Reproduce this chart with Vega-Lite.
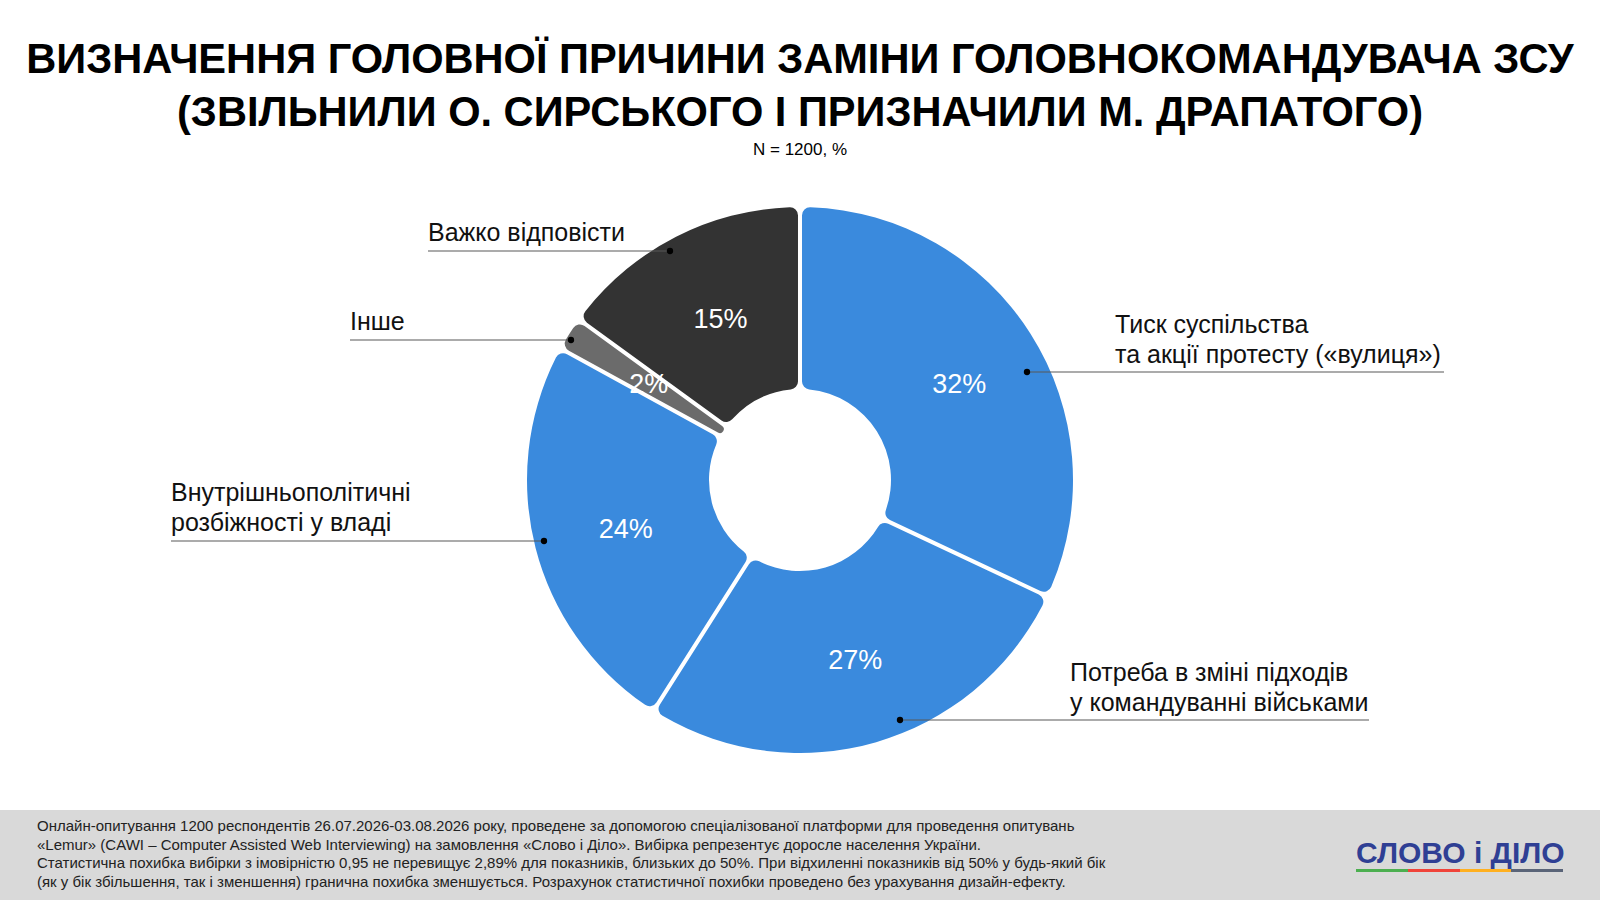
{
  "$schema": "https://vega.github.io/schema/vega-lite/v6.json",
  "description": "Визначення головної причини заміни головнокомандувача ЗСУ",
  "width": 1600,
  "height": 620,
  "autosize": {"type": "none"},
  "padding": {"top": 170, "bottom": 110, "left": 0, "right": 0},
  "background": "white",
  "title": {
    "text": ["ВИЗНАЧЕННЯ ГОЛОВНОЇ ПРИЧИНИ ЗАМІНИ ГОЛОВНОКОМАНДУВАЧА ЗСУ", "(ЗВІЛЬНИЛИ О. СИРСЬКОГО І ПРИЗНАЧИЛИ М. ДРАПАТОГО)"],
    "subtitle": "N = 1200, %",
    "anchor": "middle",
    "frame": "group",
    "font": "Liberation Sans",
    "fontSize": 41.6,
    "fontWeight": "bold",
    "color": "#000000",
    "lineHeight": 53,
    "subtitleFont": "Liberation Sans",
    "subtitleFontSize": 17,
    "subtitleColor": "#000000",
    "subtitlePadding": 7,
    "offset": 12
  },
  "datasets": {
    "slices": [
      {"answer": "Тиск суспільства та акції протесту («вулиця»)", "pct": 32, "label": "32%", "ord": 1},
      {"answer": "Потреба в зміні підходів у командуванні військами", "pct": 27, "label": "27%", "ord": 2},
      {"answer": "Внутрішньополітичні розбіжності у владі", "pct": 24, "label": "24%", "ord": 3},
      {"answer": "Інше", "pct": 2, "label": "2%", "ord": 4},
      {"answer": "Важко відповісти", "pct": 15, "label": "15%", "ord": 5}
    ],
    "callouts": [
      {"text": "Тиск суспільства\nта акції протесту («вулиця»)", "dot_x": 227, "dot_y": 108, "end_x": 644, "text_x": 315, "text_y": 147},
      {"text": "Потреба в зміні підходів\nу командуванні військами", "dot_x": 100, "dot_y": -240, "end_x": 569, "text_x": 270, "text_y": -201},
      {"text": "Внутрішньополітичні\nрозбіжності у владі", "dot_x": -256, "dot_y": -61, "end_x": -629, "text_x": -629, "text_y": -21},
      {"text": "Інше", "dot_x": -229, "dot_y": 140, "end_x": -450, "text_x": -450, "text_y": 150},
      {"text": "Важко відповісти", "dot_x": -130, "dot_y": 229, "end_x": -372, "text_x": -372, "text_y": 239}
    ],
    "footer": [
      {"x0": -800, "x1": 800, "y0": -330, "y1": -420}
    ],
    "note": [
      {"x": -763, "y": -351, "text": "Онлайн-опитування 1200 респондентів 26.07.2026-03.08.2026 року, проведене за допомогою спеціалізованої платформи для проведення опитувань\n«Lemur» (CAWI – Computer Assisted Web Interviewing) на замовлення «Слово і Діло». Вибірка репрезентує доросле населення України.\nСтатистична похибка вибірки з імовірністю 0,95 не перевищує 2,89% для показників, близьких до 50%. При відхиленні показників від 50% у будь-який бік\n(як у бік збільшення, так і зменшення) гранична похибка зменшується. Розрахунок статистичної похибки проведено без урахування дизайн-ефекту."}
    ],
    "logo": [
      {"x": 556, "y": -383, "text": "СЛОВО і ДІЛО"}
    ],
    "logo_bar": [
      {"part": "g", "x0": 556, "x1": 608, "y0": -389, "y1": -392},
      {"part": "r", "x0": 608, "x1": 660, "y0": -389, "y1": -392},
      {"part": "o", "x0": 660, "x1": 711, "y0": -389, "y1": -392},
      {"part": "s", "x0": 711, "x1": 763, "y0": -389, "y1": -392}
    ]
  },
  "layer": [
    {
      "data": {"name": "footer"},
      "mark": {"type": "rect", "color": "#d9d9d9"},
      "encoding": {
        "x": {"field": "x0", "type": "quantitative", "scale": {"domain": [-800, 800], "nice": false, "zero": false}, "axis": null},
        "x2": {"field": "x1"},
        "y": {"field": "y0", "type": "quantitative", "scale": {"domain": [-310, 310], "nice": false, "zero": false}, "axis": null},
        "y2": {"field": "y1"}
      }
    },
    {
      "data": {"name": "slices"},
      "mark": {"type": "arc", "outerRadius": 273, "innerRadius": 91, "padAngle": 0.014, "cornerRadius": 8},
      "encoding": {
        "theta": {"field": "pct", "type": "quantitative", "stack": true},
        "order": {"field": "ord", "type": "quantitative"},
        "color": {
          "field": "answer",
          "type": "nominal",
          "scale": {
            "domain": ["Тиск суспільства та акції протесту («вулиця»)", "Потреба в зміні підходів у командуванні військами", "Внутрішньополітичні розбіжності у владі", "Інше", "Важко відповісти"],
            "range": ["#3a8add", "#3a8add", "#3a8add", "#6b6b6b", "#333333"]
          },
          "legend": null
        }
      }
    },
    {
      "data": {"name": "slices"},
      "mark": {"type": "text", "radius": 184, "font": "Liberation Sans", "fontSize": 27, "color": "white", "align": "center", "baseline": "middle", "dx": 4, "dy": 4},
      "encoding": {
        "theta": {"field": "pct", "type": "quantitative", "stack": true},
        "order": {"field": "ord", "type": "quantitative"},
        "text": {"field": "label"}
      }
    },
    {
      "data": {"name": "callouts"},
      "mark": {"type": "rule", "color": "#595959", "strokeWidth": 1.2},
      "encoding": {
        "x": {"field": "dot_x", "type": "quantitative"},
        "x2": {"field": "end_x"},
        "y": {"field": "dot_y", "type": "quantitative"}
      }
    },
    {
      "data": {"name": "callouts"},
      "mark": {"type": "point", "filled": true, "color": "#000000", "size": 40, "opacity": 1},
      "encoding": {
        "x": {"field": "dot_x", "type": "quantitative"},
        "y": {"field": "dot_y", "type": "quantitative"}
      }
    },
    {
      "data": {"name": "callouts"},
      "mark": {"type": "text", "font": "Liberation Sans", "fontSize": 25, "color": "#111111", "align": "left", "baseline": "alphabetic", "lineBreak": "\n", "lineHeight": 30},
      "encoding": {
        "x": {"field": "text_x", "type": "quantitative"},
        "y": {"field": "text_y", "type": "quantitative"},
        "text": {"field": "text"}
      }
    },
    {
      "data": {"name": "note"},
      "mark": {"type": "text", "font": "Liberation Sans", "fontSize": 15, "color": "#222222", "align": "left", "baseline": "alphabetic", "lineBreak": "\n", "lineHeight": 18.7},
      "encoding": {
        "x": {"field": "x", "type": "quantitative"},
        "y": {"field": "y", "type": "quantitative"},
        "text": {"field": "text"}
      }
    },
    {
      "data": {"name": "logo"},
      "mark": {"type": "text", "font": "Liberation Sans", "fontSize": 30, "fontWeight": "bold", "color": "#2f3f94", "align": "left", "baseline": "alphabetic"},
      "encoding": {
        "x": {"field": "x", "type": "quantitative"},
        "y": {"field": "y", "type": "quantitative"},
        "text": {"field": "text"}
      }
    },
    {
      "data": {"name": "logo_bar"},
      "mark": {"type": "rect"},
      "encoding": {
        "x": {"field": "x0", "type": "quantitative"},
        "x2": {"field": "x1"},
        "y": {"field": "y0", "type": "quantitative"},
        "y2": {"field": "y1"},
        "color": {
          "field": "part",
          "type": "nominal",
          "scale": {"domain": ["g", "r", "o", "s"], "range": ["#4caf50", "#f0443a", "#ffb020", "#5a6478"]},
          "legend": null
        }
      }
    }
  ],
  "resolve": {"scale": {"color": "independent"}},
  "config": {
    "view": {"stroke": null}
  }
}
